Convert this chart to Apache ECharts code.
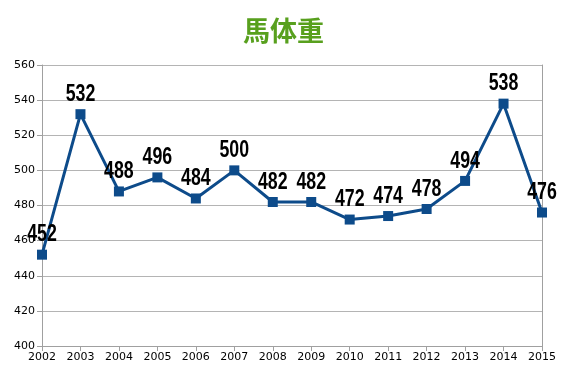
<!DOCTYPE html>
<html><head><meta charset="utf-8">
<script src="https://cdn.jsdelivr.net/npm/echarts@6/dist/echarts.min.js"></script>
<style>html,body{margin:0;padding:0;background:#fff}#c{width:567px;height:378px}</style>
</head><body><div id="c"></div>
<script>
const years = ['2002','2003','2004','2005','2006','2007','2008','2009','2010','2011','2012','2013','2014','2015'];
const weights = [452,532,488,496,484,500,482,482,472,474,478,494,538,476];
const yTicks = [400,420,440,460,480,500,520,540,560];
const titleText = '馬体重';

const chart = echarts.init(document.getElementById('c'));
chart.setOption({
  animation:false,
  backgroundColor:'#fff',
  title:{text:titleText,left:'center',top:12,textStyle:{fontFamily:'Noto Sans CJK JP',fontSize:27,fontWeight:'bold',color:'#58a01e'}},
  grid:{left:42,right:25,top:65,bottom:32},
  xAxis:{type:'category',data:years,boundaryGap:false,
    axisLine:{lineStyle:{color:'#a0a0a0',width:1}},
    axisTick:{show:true,alignWithLabel:true,length:5,lineStyle:{color:'#a0a0a0'}},
    axisLabel:{color:'#000',fontFamily:'DejaVu Sans',fontSize:11,margin:6,interval:0},
    splitLine:{show:false}},
  yAxis:[{type:'value',min:yTicks[0],max:yTicks[yTicks.length-1],interval:20,
    axisLine:{show:true,lineStyle:{color:'#a0a0a0'}},
    axisTick:{show:true,length:5,lineStyle:{color:'#a0a0a0'}},
    axisLabel:{color:'#000',fontFamily:'DejaVu Sans',fontSize:11,margin:7},
    splitLine:{lineStyle:{color:'#b4b4b4',width:1}}},
   {type:'value',position:'right',min:yTicks[0],max:yTicks[yTicks.length-1],interval:20,
    axisLine:{show:true,lineStyle:{color:'#a0a0a0'}},axisTick:{show:false},axisLabel:{show:false},splitLine:{show:false}}],
  series:[{type:'line',data:weights,symbol:'rect',symbolSize:10,
    lineStyle:{color:'#0d4b8a',width:3},itemStyle:{color:'#0d4b8a'}},
   {type:'custom',clip:false,z:5,data:weights.map((v,i)=>[i,v]),encode:{x:0,y:1},
    renderItem:function(params,api){
      const p=api.coord([api.value(0),api.value(1)]);
      return {type:'text',x:p[0],y:p[1]-8,scaleX:0.74,
        style:{text:String(api.value(1)),font:'bold 24px "Liberation Sans"',fill:'#000',align:'center',verticalAlign:'bottom'}};
    }}]
});
</script></body></html>
